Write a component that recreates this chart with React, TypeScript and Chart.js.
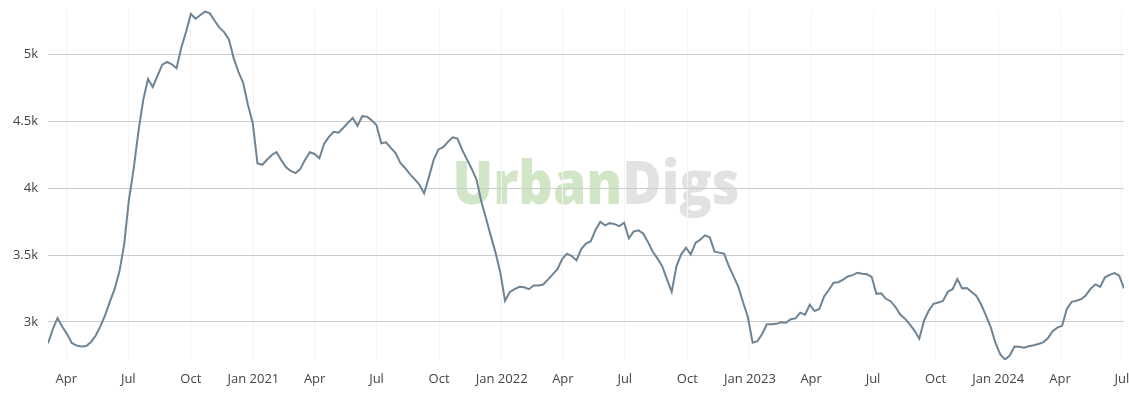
import React, { useEffect, useRef } from "react";
import { Chart, registerables } from "chart.js";

Chart.register(...registerables);

// First weekly observation and spacing
const startDate = "2020-03-05";
const stepDays = 7;

// Weekly values
const values: number[] = [
  2841, 2944, 3030, 2964, 2910, 2843, 2824, 2816, 2820, 2849,
  2897, 2967, 3051, 3152, 3247, 3376, 3580, 3913, 4145, 4425,
  4657, 4815, 4755, 4838, 4922, 4942, 4925, 4895, 5050, 5168,
  5300, 5265, 5293, 5318, 5305, 5250, 5198, 5165, 5110, 4970,
  4868, 4785, 4620, 4486, 4184, 4174, 4212, 4247, 4268, 4209,
  4155, 4128, 4112, 4143, 4212, 4268, 4255, 4223, 4331, 4382,
  4420, 4414, 4449, 4487, 4524, 4465, 4537, 4533, 4506, 4470,
  4335, 4342, 4300, 4262, 4188, 4150, 4104, 4067, 4026, 3960,
  4082, 4210, 4289, 4305, 4345, 4379, 4370, 4285, 4214, 4143,
  4064, 3902, 3774, 3643, 3518, 3370, 3158, 3224, 3245, 3263,
  3259, 3245, 3273, 3272, 3280, 3316, 3355, 3395, 3470, 3510,
  3492, 3460, 3545, 3585, 3603, 3687, 3749, 3722, 3738, 3731,
  3716, 3741, 3625, 3675, 3684, 3661, 3598, 3526, 3475, 3417,
  3320, 3225, 3418, 3505, 3555, 3505, 3590, 3615, 3647, 3632,
  3525, 3518, 3510, 3418, 3340, 3262, 3145, 3037, 2845, 2856,
  2910, 2983, 2983, 2986, 2998, 2994, 3020, 3027, 3070, 3055,
  3129, 3082, 3097, 3190, 3239, 3293, 3297, 3317, 3340, 3350,
  3368, 3360, 3356, 3337, 3210, 3214, 3173, 3155, 3112, 3056,
  3025, 2982, 2936, 2875, 3010, 3085, 3136, 3145, 3158, 3226,
  3245, 3320, 3251, 3253, 3224, 3194, 3130, 3050, 2962, 2843,
  2760, 2720, 2749, 2816, 2815, 2808, 2818, 2826, 2836, 2848,
  2878, 2932, 2958, 2971, 3098, 3150, 3158, 3170, 3200, 3249,
  3281, 3262, 3334, 3352, 3365, 3346, 3250,
];

// X-axis ticks
const tickDates = [
  "2020-04-01", "2020-07-01", "2020-10-01", "2021-01-01",
  "2021-04-01", "2021-07-01", "2021-10-01", "2022-01-01",
  "2022-04-01", "2022-07-01", "2022-10-01", "2023-01-01",
  "2023-04-01", "2023-07-01", "2023-10-01", "2024-01-01",
  "2024-04-01", "2024-07-01",
];
const tickLabels = [
  "Apr", "Jul", "Oct", "Jan 2021",
  "Apr", "Jul", "Oct", "Jan 2022",
  "Apr", "Jul", "Oct", "Jan 2023",
  "Apr", "Jul", "Oct", "Jan 2024",
  "Apr", "Jul",
];

// Y-axis ticks
const yTicks = [3000, 3500, 4000, 4500, 5000];
const yMin = 2716;
const yMax = 5330;

const toDay = (s: string) => {
  const [y, m, d] = s.split("-").map(Number);
  return Date.UTC(y, m - 1, d) / 86400000;
};

const watermark = {
  id: "watermark",
  beforeDraw(chart: any) {
    const ctx = chart.ctx;
    ctx.save();
    ctx.font = "800 60px 'Open Sans'";
    ctx.textBaseline = "alphabetic";
    const a = "Urban";
    const b = "Digs";
    const wa = ctx.measureText(a).width;
    const wb = ctx.measureText(b).width;
    const target = 287;
    const s = target / (wa + wb);
    ctx.translate(596 - target / 2, 204);
    ctx.scale(s, 1);
    ctx.fillStyle = "#d1e6c7";
    ctx.fillText(a, 0, 0);
    ctx.fillStyle = "#e2e2e2";
    ctx.fillText(b, wa, 0);
    ctx.restore();
  },
};

export default function App() {
  const ref = useRef<HTMLCanvasElement | null>(null);

  useEffect(() => {
    if (!ref.current) return;
    const d0 = toDay(startDate);
    const points = values.map((v, i) => ({ x: d0 + i * stepDays, y: v }));
    const tickDays = tickDates.map(toDay);
    const labelFor = new Map<number, string>();
    tickDays.forEach((d, i) => labelFor.set(d, tickLabels[i]));

    const chart = new Chart(ref.current, {
      type: "line",
      data: {
        datasets: [
          {
            data: points,
            borderColor: "#6e8494",
            borderWidth: 2,
            pointRadius: 0,
            tension: 0,
            fill: false,
          },
        ],
      },
      plugins: [watermark],
      options: {
        animation: false,
        responsive: true,
        maintainAspectRatio: false,
        layout: { padding: { left: 0, right: 5, top: 10, bottom: 0 } },
        plugins: {
          legend: { display: false },
          tooltip: { enabled: false },
        },
        scales: {
          x: {
            type: "linear",
            min: points[0].x,
            max: points[points.length - 1].x,
            afterBuildTicks: (scale: any) => {
              scale.ticks = tickDays.map((v) => ({ value: v }));
            },
            afterFit: (scale: any) => {
              scale.height = 40;
              scale.paddingLeft = 0;
              scale.paddingRight = 0;
            },
            ticks: {
              autoSkip: false,
              maxRotation: 0,
              padding: 11,
              color: "#444",
              font: { family: "'Open Sans'", size: 13 },
              callback: (v: any) => labelFor.get(Number(v)) ?? "",
            },
            grid: { color: "#f4f4f4", drawTicks: false },
            border: { display: false },
          },
          y: {
            type: "linear",
            min: yMin,
            max: yMax,
            afterBuildTicks: (scale: any) => {
              scale.ticks = yTicks.map((v) => ({ value: v }));
            },
            afterFit: (scale: any) => {
              scale.width = 48;
              scale.paddingTop = 0;
              scale.paddingBottom = 0;
            },
            ticks: {
              padding: 10,
              color: "#444",
              font: { family: "'Open Sans'", size: 13 },
              callback: (v: any) => `${Number(v) / 1000}k`,
            },
            grid: { color: "#cccccc", drawTicks: false },
            border: { display: false },
          },
        },
      },
    });
    return () => chart.destroy();
  }, []);

  return (
    <div style={{ position: "fixed", left: 0, top: 0, width: 1129, height: 400 }}>
      <canvas ref={ref} />
    </div>
  );
}
